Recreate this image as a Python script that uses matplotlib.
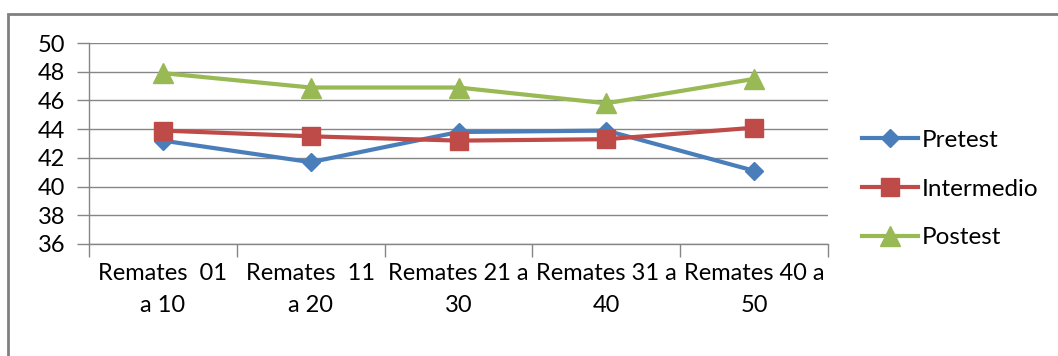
import matplotlib.pyplot as plt
from matplotlib.patches import Rectangle

plt.rcParams['font.family'] = ['Lato', 'DejaVu Sans']

# %% Daten
categories = ['Remates  01\na 10', 'Remates  11\na 20', 'Remates 21 a\n30',
              'Remates 31 a\n40', 'Remates 40 a\n50']
pretest = [43.2, 41.7, 43.8, 43.9, 41.1]
intermedio = [43.9, 43.5, 43.2, 43.3, 44.1]
postest = [47.9, 46.9, 46.9, 45.8, 47.5]

# %% Grafik
W, H = 1058, 356
fig = plt.figure(figsize=(W / 100, H / 100), dpi=100)
ax = fig.add_axes([89 / W, 1 - 244 / H, (828 - 89) / W, (244 - 43) / H])

x = range(len(categories))
ax.plot(x, pretest, color='#4A7EBB', lw=3, marker='D', ms=9,
        label='Pretest', zorder=3)
ax.plot(x, intermedio, color='#BE4B48', lw=3, marker='s', ms=13,
        label='Intermedio', zorder=3)
ax.plot(x, postest, color='#98B954', lw=3, marker='^', ms=14,
        label='Postest', zorder=3)

ax.set_xlim(-0.5, len(categories) - 0.5)
ax.set_ylim(36, 50)
ax.set_yticks(range(36, 51, 2))
ax.set_xticks(x)
ax.set_xticklabels(categories, fontsize=17, linespacing=1.6)
ax.set_xticks([i - 0.5 for i in range(len(categories) + 1)], minor=True)
ax.tick_params(axis='x', which='major', length=0, pad=14)
ax.tick_params(axis='x', which='minor', length=9, color='#868686', width=1)
ax.tick_params(axis='y', length=9, color='#868686', width=1, labelsize=17, pad=8)
ax.grid(axis='y', color='#868686', lw=1)
ax.set_axisbelow(True)
for s in ['top', 'right']:
    ax.spines[s].set_visible(False)
for s in ['left', 'bottom']:
    ax.spines[s].set_color('#868686')
    ax.spines[s].set_linewidth(1)

ax.legend(loc='center left', bbox_to_anchor=(862 / W, 1 - 189 / H),
          bbox_transform=fig.transFigure, frameon=False, fontsize=17.5,
          handlelength=2.3, handletextpad=0.15, labelspacing=1.15,
          borderaxespad=0, borderpad=0)

# Rahmen
fig.patches.append(Rectangle((8 / W, -0.1), 1.2, 1 - 14 / H + 0.1,
                             transform=fig.transFigure, fill=False,
                             edgecolor='#808080', lw=2))

fig.savefig('out.png', dpi=100)
